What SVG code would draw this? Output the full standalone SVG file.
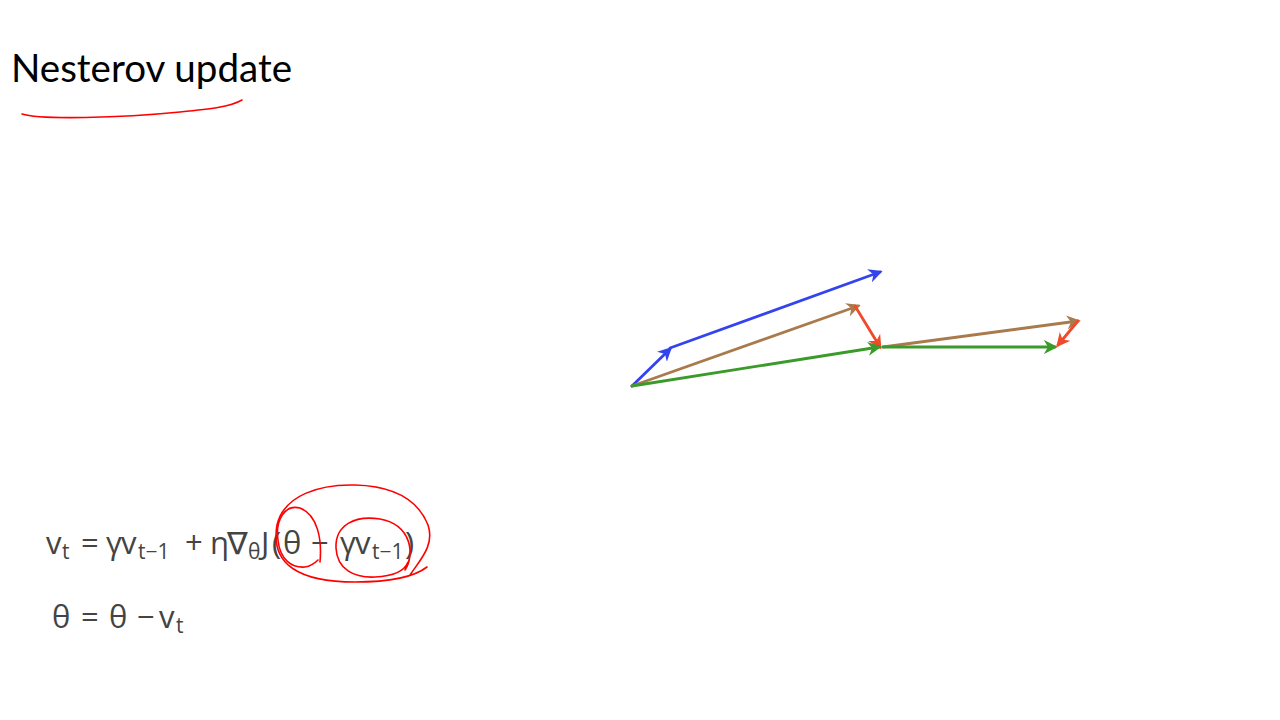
<svg xmlns="http://www.w3.org/2000/svg" width="1280" height="720" viewBox="0 0 1280 720">
<defs>
<style>
.title{font-family:Lato,"Open Sans","Liberation Sans",sans-serif;font-size:38px;fill:#000}
.eq{font-family:"Open Sans","DejaVu Sans",sans-serif;font-size:31px;fill:#444}
.sub{font-size:21px}
.ink{fill:none;stroke:#f00;stroke-width:1.6;stroke-linecap:round;stroke-linejoin:round}
.v{fill:none;stroke-width:2.8;stroke-linecap:round}
</style>
<marker id="aB" viewBox="0 0 10 10" refX="8" refY="5" markerWidth="5" markerHeight="5" orient="auto"><path d="M0,0L10,5L0,10L3,5z" fill="#3344ee"/></marker>
<marker id="aN" viewBox="0 0 10 10" refX="8" refY="5" markerWidth="5" markerHeight="5" orient="auto"><path d="M0,0L10,5L0,10L3,5z" fill="#a87a4c"/></marker>
<marker id="aR" viewBox="0 0 10 10" refX="8" refY="5" markerWidth="5" markerHeight="5" orient="auto"><path d="M0,0L10,5L0,10L3,5z" fill="#f04a2a"/></marker>
<marker id="aG" viewBox="0 0 10 10" refX="8" refY="5" markerWidth="5" markerHeight="5" orient="auto"><path d="M0,0L10,5L0,10L3,5z" fill="#3a9a2a"/></marker>
</defs>
<rect width="1280" height="720" fill="#fff"/>
<g id="title">
<text class="title" x="11" y="82" textLength="281" lengthAdjust="spacingAndGlyphs">Nesterov update</text>
<path class="ink" d="M22,114 C40,120 120,118 180,112 C210,109 230,107 242,100"/>
</g>
<g id="connectors">
<line class="v" x1="632" y1="386" x2="670" y2="349" stroke="#3344ee" marker-end="url(#aB)"/>
<line class="v" x1="670" y1="348" x2="880" y2="272" stroke="#3344ee" marker-end="url(#aB)"/>
<line class="v" x1="632" y1="386" x2="858" y2="306" stroke="#a87a4c" marker-end="url(#aN)"/>
<line class="v" x1="855" y1="306" x2="880" y2="347" stroke="#f04a2a" marker-end="url(#aR)"/>
<line class="v" x1="632" y1="386" x2="879" y2="347" stroke="#3a9a2a" marker-end="url(#aG)"/>
<line class="v" x1="883" y1="347" x2="1078" y2="321" stroke="#a87a4c" marker-end="url(#aN)"/>
<line class="v" x1="883" y1="347" x2="1055" y2="347" stroke="#3a9a2a" marker-end="url(#aG)"/>
<line class="v" x1="1078" y1="321" x2="1058" y2="345" stroke="#f04a2a" marker-end="url(#aR)"/>
</g>
<g id="eq1">
<text class="eq" y="554"><tspan x="46">v</tspan><tspan class="sub" x="62" y="559">t</tspan><tspan x="81" y="554">=</tspan><tspan x="106">γ</tspan><tspan x="121">v</tspan><tspan class="sub" x="138" y="559">t−1</tspan><tspan x="185" y="554">+</tspan><tspan x="210">η</tspan><tspan x="227">∇</tspan><tspan class="sub" x="248" y="559">θ</tspan><tspan x="261" y="554">J</tspan><tspan x="272">(</tspan><tspan x="283">θ</tspan><tspan x="311">−</tspan><tspan x="340">γ</tspan><tspan x="355">v</tspan><tspan class="sub" x="372" y="559">t−1</tspan><tspan x="405" y="554">)</tspan></text>
<path class="ink" d="M427,567 C418,574 400,582 355,582 C300,582 270,565 277,525 C284,495 320,484 355,485 C395,486 418,500 428,525 C435,545 420,560 410,575"/>
<path class="ink" d="M320,562 C322,540 318,515 300,508 C285,504 275,520 278,540 C280,560 292,568 305,567 C312,566 316,562 318,560"/>
<path class="ink" d="M405,570 C415,555 412,525 380,519 C355,515 335,525 336,548 C337,570 355,578 375,577 C395,576 405,570 408,562"/>
</g>
<g id="eq2">
<text class="eq" y="628"><tspan x="52">θ</tspan><tspan x="81">=</tspan><tspan x="109">θ</tspan><tspan x="137">−</tspan><tspan x="159">v</tspan><tspan class="sub" x="176" y="633">t</tspan></text>
</g>
</svg>
